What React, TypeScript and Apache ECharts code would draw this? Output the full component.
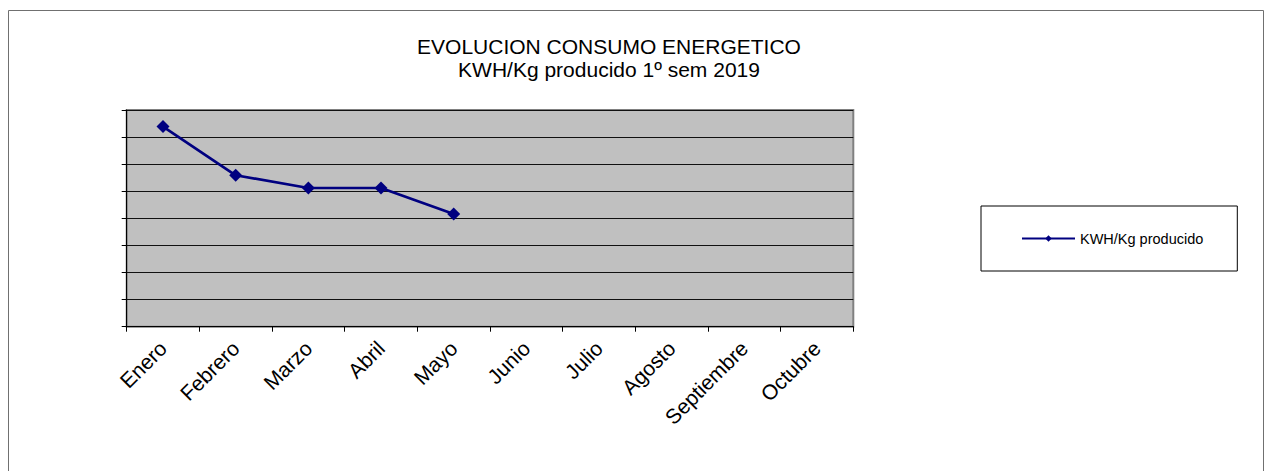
import React, { useEffect, useRef } from "react";
import * as echarts from "echarts";

const titleLines = ["EVOLUCION CONSUMO ENERGETICO", "KWH/Kg producido 1º sem 2019"];
const months = ["Enero", "Febrero", "Marzo", "Abril", "Mayo", "Junio", "Julio", "Agosto", "Septiembre", "Octubre"];
const seriesName = "KWH/Kg producido";
const kwhPerKg: (number | null)[] = [7.39, 5.59, 5.12, 5.12, 4.16, null, null, null, null, null];
const yMin = 0;
const yMax = 8;
const yInterval = 1;

const FONT = "'Liberation Sans', Arial, sans-serif";

export default function App() {
  const ref = useRef<HTMLDivElement>(null);
  useEffect(() => {
    document.body.style.margin = "0";
    const chart = echarts.init(ref.current!, undefined, { renderer: "svg" });
    chart.setOption({
      animation: false,
      backgroundColor: "#ffffff",
      title: {
        text: titleLines.join("\n"),
        left: 609,
        top: 35,
        padding: 0,
        textAlign: "center",
        textStyle: {
          fontFamily: FONT,
          fontSize: 21,
          fontWeight: "normal",
          color: "#000",
          lineHeight: 23,
        },
      },
      graphic: [
        {
          type: "rect",
          shape: { x: 8.5, y: 10.5, width: 1255, height: 470 },
          style: { fill: "none", stroke: "#707070", lineWidth: 1 },
          silent: true,
          z: -1,
        },
      ],
      legend: {
        left: 981,
        top: 206,
        orient: "vertical",
        padding: [25, 34, 25, 40],
        borderColor: "#000",
        borderWidth: 1,
        itemWidth: 53,
        itemHeight: 8,
        textStyle: { fontFamily: FONT, fontSize: 14.5, color: "#000" },
        data: [seriesName],
      },
      grid: {
        left: 126.7,
        right: 415.7,
        top: 110,
        bottom: 144.3,
        show: true,
        backgroundColor: "#C0C0C0",
        borderColor: "#808080",
        borderWidth: 2,
      },
      xAxis: {
        type: "category",
        data: months,
        boundaryGap: true,
        axisLine: { show: true, lineStyle: { color: "#000", width: 1 } },
        axisTick: { show: true, length: 5, lineStyle: { color: "#000" } },
        axisLabel: {
          interval: 0,
          rotate: 45,
          margin: 18,
          fontFamily: FONT,
          fontSize: 21,
          color: "#000",
        },
        splitLine: { show: false },
      },
      yAxis: {
        type: "value",
        min: yMin,
        max: yMax,
        interval: yInterval,
        axisLine: { show: true, lineStyle: { color: "#000", width: 1 } },
        axisTick: { show: true, length: 5, lineStyle: { color: "#000" } },
        axisLabel: { show: false },
        splitLine: { show: true, lineStyle: { color: "#111", width: 1 } },
      },
      series: [
        {
          name: seriesName,
          type: "line",
          data: kwhPerKg,
          symbol: "diamond",
          symbolSize: 13,
          connectNulls: false,
          lineStyle: { color: "#000080", width: 2.7 },
          itemStyle: { color: "#000080" },
        },
      ],
    });
    return () => chart.dispose();
  }, []);
  return <div ref={ref} style={{ width: 1269, height: 471 }} />;
}
